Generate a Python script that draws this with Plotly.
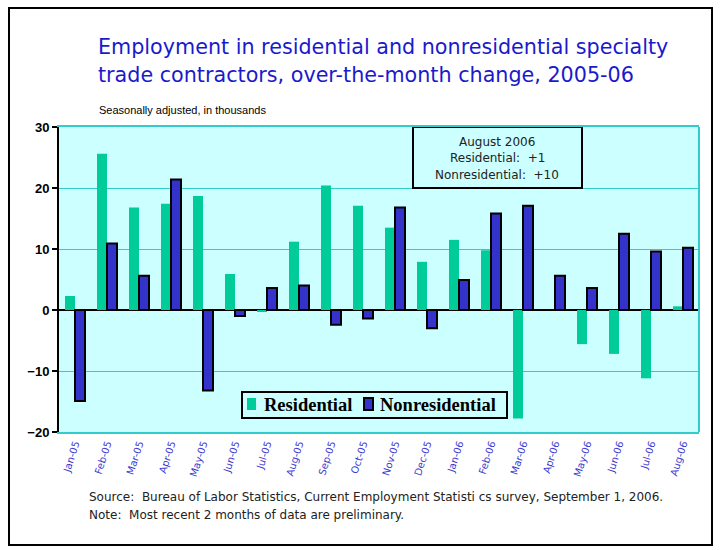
import plotly.graph_objects as go

months = ["Jan-05", "Feb-05", "Mar-05", "Apr-05", "May-05", "Jun-05", "Jul-05",
          "Aug-05", "Sep-05", "Oct-05", "Nov-05", "Dec-05", "Jan-06", "Feb-06",
          "Mar-06", "Apr-06", "May-06", "Jun-06", "Jul-06", "Aug-06"]
residential = [2.3, 25.6, 16.8, 17.4, 18.7, 5.9, -0.3, 11.2, 20.4, 17.1,
               13.5, 7.9, 11.5, 9.8, -17.8, 0.0, -5.6, -7.2, -11.2, 0.6]
nonresidential = [-14.9, 10.9, 5.6, 21.4, -13.2, -1.0, 3.6, 4.0, -2.4, -1.4,
                  16.8, -3.0, 4.9, 15.8, 17.1, 5.6, 3.6, 12.5, 9.6, 10.2]
y_ticks = [-20, -10, 0, 10, 20, 30]

GREEN = "#00CC99"
BLUE = "#3333CC"
PLOT_BG = "#CCFFFF"
TEAL = "#33CCCC"

W, H = 720, 550
L, R, T, B = 59, 21, 127, 118
PW, PH = W - L - R, H - T - B


def px(x):
    return (x - L) / PW


def py(y):
    return (H - B - y) / PH


fig = go.Figure()
fig.add_trace(go.Bar(x=months, y=residential, name="Residential",
                     marker=dict(color=GREEN, line=dict(width=0))))
fig.add_trace(go.Bar(x=months, y=nonresidential, name="Nonresidential",
                     marker=dict(color=BLUE, line=dict(color="black", width=2))))

fig.update_layout(
    width=W, height=H,
    margin=dict(l=L, r=R, t=T, b=B),
    paper_bgcolor="white",
    plot_bgcolor=PLOT_BG,
    barmode="group",
    bargap=0.375,
    bargroupgap=0,
    showlegend=False,
    font=dict(family="DejaVu Sans"),
)

fig.update_xaxes(
    showgrid=False, showline=True, linecolor=TEAL, linewidth=2, mirror=True,
    ticks="", tickangle=-72,
    tickfont=dict(family="DejaVu Sans", size=10, color="#3B3BD0"),
)
fig.update_yaxes(
    range=[-20, 30], tickvals=y_ticks,
    showgrid=True, gridcolor=TEAL, gridwidth=1,
    zeroline=True, zerolinecolor="black", zerolinewidth=2,
    showline=True, linecolor="black", linewidth=2,
    ticks="outside", ticklen=5, tickcolor="black", tickwidth=2,
    tickfont=dict(family="Liberation Sans", size=13, color="black", weight="bold"),
)

# teal right border of the plot area
fig.add_shape(type="line", xref="paper", yref="paper", x0=1, x1=1, y0=0, y1=1,
              line=dict(color=TEAL, width=2))

# outer frame
fig.add_shape(type="rect", xref="paper", yref="paper",
              x0=px(9), x1=px(712), y0=py(545), y1=py(8),
              line=dict(color="black", width=2))

title_font = dict(family="DejaVu Sans", size=20.7, color="#1A1ACC")
fig.add_annotation(text="Employment in residential and nonresidential specialty",
                   xref="paper", yref="paper", x=px(96), y=py(47),
                   xanchor="left", yanchor="middle", showarrow=False, font=title_font)
fig.add_annotation(text="trade contractors, over-the-month change, 2005-06",
                   xref="paper", yref="paper", x=px(96), y=py(75),
                   xanchor="left", yanchor="middle", showarrow=False, font=title_font)
fig.add_annotation(text="Seasonally adjusted, in thousands",
                   xref="paper", yref="paper", x=px(97), y=py(110),
                   xanchor="left", yanchor="middle", showarrow=False,
                   font=dict(family="Liberation Sans Narrow, Liberation Sans", size=11, color="black"))

# latest-month callout box
fig.add_shape(type="rect", xref="paper", yref="y",
              x0=px(413), x1=px(582), y0=20, y1=30,
              fillcolor=PLOT_BG, line=dict(color="black", width=2))
box_font = dict(family="DejaVu Sans", size=12, color="#222222")
box_lines = [
    "August 2006",
    f"Residential:  {round(residential[-1]):+d}",
    f"Nonresidential:  {round(nonresidential[-1]):+d}",
]
for txt, yy in zip(box_lines, [142, 158, 175]):
    fig.add_annotation(text=txt, xref="paper", yref="paper", x=px(497), y=py(yy),
                       xanchor="center", yanchor="middle", showarrow=False, font=box_font)

# legend box drawn by hand for tighter spacing
fig.add_shape(type="rect", xref="paper", yref="paper",
              x0=px(242), x1=px(507), y0=py(418), y1=py(392),
              fillcolor=PLOT_BG, line=dict(color="black", width=2))
fig.add_shape(type="rect", xref="paper", yref="paper",
              x0=px(247), x1=px(256), y0=py(410), y1=py(398),
              fillcolor=GREEN, line=dict(width=0))
fig.add_shape(type="rect", xref="paper", yref="paper",
              x0=px(364), x1=px(373), y0=py(410), y1=py(398),
              fillcolor=BLUE, line=dict(color="black", width=2))
legend_font = dict(family="Liberation Serif", size=18.5, color="black", weight="bold")
fig.add_annotation(text="Residential", xref="paper", yref="paper", x=px(262), y=py(405),
                   xanchor="left", yanchor="middle", showarrow=False, font=legend_font)
fig.add_annotation(text="Nonresidential", xref="paper", yref="paper", x=px(378), y=py(405),
                   xanchor="left", yanchor="middle", showarrow=False, font=legend_font)

note_font = dict(family="DejaVu Sans", size=12, color="#222222")
fig.add_annotation(text="Source:  Bureau of Labor Statistics, Current Employment Statisti cs survey, September 1, 2006.",
                   xref="paper", yref="paper", x=px(87), y=py(497),
                   xanchor="left", yanchor="middle", showarrow=False, font=note_font)
fig.add_annotation(text="Note:  Most recent 2 months of data are preliminary.",
                   xref="paper", yref="paper", x=px(87), y=py(515),
                   xanchor="left", yanchor="middle", showarrow=False, font=note_font)

fig.write_html("out.html")
